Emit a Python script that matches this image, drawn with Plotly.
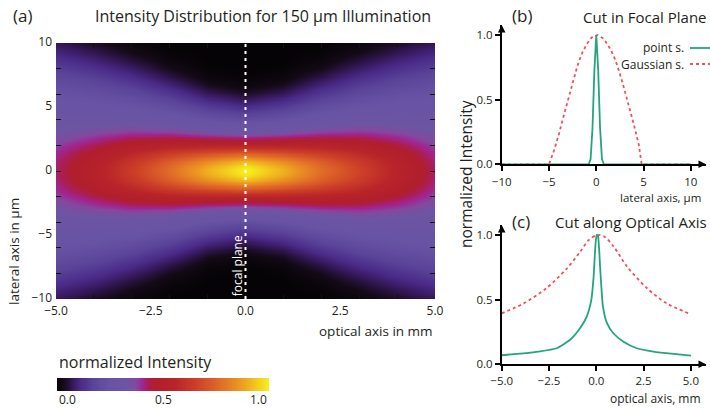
import numpy as np
import plotly.graph_objects as go

W, H = 710, 409
FONT = "Open Sans"
TXT = "#231f20"

# ---------------- Panel (a): beam parameters ----------------
opt_pos_mm = [-5, -4, -3, -2, -1, 0, 1, 2, 3, 4, 5]
on_axis_int = [0.42, 0.52, 0.64, 0.77, 0.90, 1.00, 0.90, 0.77, 0.66, 0.54, 0.42]
halo_level = [0.28, 0.28, 0.28, 0.28, 0.28, 0.28, 0.28, 0.28, 0.28, 0.28, 0.28]
halo_halfwidth_um = [8.4, 7.7, 6.9, 6.0, 5.1, 4.7, 5.1, 6.0, 6.9, 7.7, 8.4]
core_width_um = [3.2, 3.0, 2.8, 2.5, 2.2, 2.05, 2.2, 2.5, 2.8, 3.0, 3.2]
lat_grid_um = np.linspace(-10, 10, 161)
focal_plane_mm = 0.0

# colour-bar values and labels
cbar_vals = np.linspace(0, 1, 201)
cbar_ticks = ['0.0', '0.5', '1.0']

# ---------------- Panel (b): cut in focal plane ----------------
lat_point_um = [-10, -0.8, -0.6, -0.4, -0.2, 0.0, 0.2, 0.4, 0.6, 0.8, 10]
point_focal = [0, 0, 0.04, 0.28, 0.73, 1.0, 0.73, 0.28, 0.04, 0, 0]
lat_gauss_um = [-10, -5, -4.5, -4, -3.5, -3, -2.5, -2, -1.5, -1, -0.5, 0.15,
                0.8, 1.5, 2, 2.5, 3, 3.5, 4, 4.5, 4.8, 10]
gauss_focal = [0, 0, 0.1, 0.22, 0.36, 0.5, 0.63, 0.76, 0.86, 0.93, 0.98, 1.0,
               0.97, 0.89, 0.81, 0.7, 0.57, 0.44, 0.3, 0.15, 0, 0]

# ---------------- Panel (c): cut along optical axis ----------------
opt_point_mm = [-5, -3.85, -3.06, -2.09, -1.38, -0.85, -0.5, -0.26, -0.14, -0.05, 0.02,
                0.09, 0.21, 0.35, 0.56, 0.9, 1.44, 2.14, 3.02, 4.08, 5]
point_axial = [0.07, 0.085, 0.098, 0.124, 0.19, 0.28, 0.37, 0.5, 0.68, 0.91, 1.0,
               0.99, 0.73, 0.45, 0.32, 0.24, 0.175, 0.124, 0.098, 0.08, 0.067]
opt_gauss_mm = [-5, -3.85, -2.62, -1.56, -0.85, -0.41, 0.05, 0.4, 0.92, 1.63, 2.67, 3.73, 5]
gauss_axial = [0.394, 0.47, 0.59, 0.74, 0.87, 0.96, 1.0, 0.99, 0.91, 0.755, 0.59, 0.47, 0.387]

colorscale = [
    [0.0, '#050305'], [0.03, '#150a18'], [0.07, '#35185a'], [0.11, '#4a2a88'],
    [0.17, '#5a4499'], [0.24, '#6753a4'], [0.33, '#6c55a3'], [0.37, '#84489f'],
    [0.40, '#a02590'], [0.43, '#aa1e55'], [0.46, '#b11e2c'], [0.55, '#b8242a'],
    [0.65, '#cc3e28'], [0.75, '#de6428'], [0.85, '#eb9222'], [0.93, '#f2c21e'],
    [1.0, '#f6f31a'],
]

# build the intensity map from the read parameters
T = np.array(on_axis_int)
Hh = np.array(halo_level)
Wh = np.array(halo_halfwidth_um)
Wc = np.array(core_width_um)
Y = lat_grid_um[:, None]
z = (T - Hh)[None, :] * np.exp(-(Y / Wc[None, :]) ** 2) + \
    Hh[None, :] * np.exp(-np.log(2) * (Y / Wh[None, :]) ** 4)

GREEN = '#22a679'
RED = '#f0505e'


def px(x):
    return x / W


def py(y):
    return 1 - y / H


fig = go.Figure()
fig.add_trace(go.Heatmap(
    x=opt_pos_mm, y=lat_grid_um, z=z, zmin=0, zmax=1, zsmooth='best',
    colorscale=colorscale, xaxis='x', yaxis='y', hoverinfo='skip', showscale=False))
# colour bar drawn as its own heat-map strip
fig.add_trace(go.Heatmap(
    x=cbar_vals, y=[0], z=[cbar_vals], zmin=0, zmax=1, zsmooth='best',
    colorscale=colorscale, xaxis='x5', yaxis='y5', hoverinfo='skip', showscale=False))
# tick-only overlay axes
fig.add_trace(go.Scatter(x=[], y=[], xaxis='x4', yaxis='y4', showlegend=False))

fig.add_trace(go.Scatter(x=lat_gauss_um, y=gauss_focal, mode='lines', xaxis='x2', yaxis='y2',
                         line=dict(color=RED, width=1.8, dash='dot'), showlegend=False))
fig.add_trace(go.Scatter(x=lat_point_um, y=point_focal, mode='lines', xaxis='x2', yaxis='y2',
                         line=dict(color=GREEN, width=1.8), showlegend=False))
fig.add_trace(go.Scatter(x=opt_gauss_mm, y=gauss_axial, mode='lines', xaxis='x3', yaxis='y3',
                         line=dict(color=RED, width=1.8, dash='dot', shape='spline', smoothing=0.8),
                         showlegend=False))
fig.add_trace(go.Scatter(x=opt_point_mm, y=point_axial, mode='lines', xaxis='x3', yaxis='y3',
                         line=dict(color=GREEN, width=1.8, shape='spline', smoothing=0.5),
                         showlegend=False))

tickfont = dict(family=FONT, size=12, color=TXT)
smallfont = dict(family=FONT, size=11.5, color=TXT)

panel_axis = dict(showline=True, linecolor='black', linewidth=1.5, ticks='outside',
                  ticklen=5, tickwidth=1.5, tickcolor='black', showgrid=False,
                  zeroline=False, tickfont=smallfont, fixedrange=True)

fig.update_layout(
    width=W, height=H, margin=dict(l=0, r=0, t=0, b=0, autoexpand=False),
    paper_bgcolor='white', plot_bgcolor='white', showlegend=False,
    font=dict(family=FONT, color=TXT),
    xaxis=dict(domain=[px(56), px(435)], range=[-5, 5], anchor='y',
               tickvals=[-5, -2.5, 0, 2.5, 5], tickformat='.1f', ticks='',
               ticklabelstandoff=3,
               showgrid=False, zeroline=False, tickfont=tickfont, showline=False),
    yaxis=dict(domain=[py(299), py(43)], range=[-10, 10], anchor='x',
               tickvals=[-10, -5, 0, 5, 10], ticks='', showgrid=False, zeroline=False,
               ticklabelstandoff=3, ticklabelshift=-1,
               tickfont=tickfont, showline=False),
    xaxis4=dict(overlaying='x', anchor='y4', range=[-5, 5], dtick=1, tick0=0,
                ticks='inside', ticklen=5, tickcolor='#111', tickwidth=1,
                showticklabels=False, mirror='ticks', showgrid=False, zeroline=False,
                showline=False),
    yaxis4=dict(overlaying='y', anchor='x4', range=[-10, 10], dtick=2, tick0=0,
                ticks='inside', ticklen=5, tickcolor='#111', tickwidth=1,
                showticklabels=False, mirror='ticks', showgrid=False, zeroline=False,
                showline=False),
    xaxis5=dict(domain=[px(57), px(269)], range=[0, 1], anchor='y5', visible=False),
    yaxis5=dict(domain=[py(391), py(378)], range=[-0.5, 0.5], anchor='x5', visible=False),
    xaxis2=dict(domain=[px(501.7), px(706)], range=[-10, 11.6], anchor='y2',
                tickvals=[-10, -5, 0, 5, 10], ticklabelstandoff=1, **panel_axis),
    yaxis2=dict(domain=[py(164.3), py(25)], range=[0, 1.077], anchor='x2',
                tickvals=[0, 0.5, 1], tickformat='.1f', **panel_axis),
    xaxis3=dict(domain=[px(501.7), px(706)], range=[-5, 5.8], anchor='y3',
                tickvals=[-5, -2.5, 0, 2.5, 5], tickformat='.1f', **panel_axis),
    yaxis3=dict(domain=[py(364.3), py(225)], range=[0, 1.077], anchor='x3',
                tickvals=[0, 0.5, 1], tickformat='.1f', **panel_axis),
)

fig.add_shape(type='line', xref='x', yref='y', x0=focal_plane_mm, x1=focal_plane_mm,
              y0=-10, y1=10, line=dict(color='white', width=2, dash='3px,4px'))


def ann(text, x, y, size=13, xanchor='left', yanchor='middle', angle=0, color=TXT, xref='paper',
        yref='paper'):
    fig.add_annotation(text=text, x=x, y=y, xref=xref, yref=yref, showarrow=False,
                       xanchor=xanchor, yanchor=yanchor, textangle=angle,
                       font=dict(family=FONT, size=size, color=color))


# arrowheads on the cut panels
for xr, yr, xe, ye in [('x2', 'y2', 11.6, 1.077), ('x3', 'y3', 5.8, 1.077)]:
    fig.add_annotation(x=xe, y=0, xref=xr, yref=yr, ax=-8, ay=0, showarrow=True,
                       arrowhead=2, arrowsize=1, arrowwidth=1.5, arrowcolor='black', text='')
    fig.add_annotation(x=-10 if xr == 'x2' else -5, y=ye, xref=xr, yref=yr, ax=0, ay=8,
                       showarrow=True, arrowhead=2, arrowsize=1, arrowwidth=1.5,
                       arrowcolor='black', text='')

ann('(a)', px(11), py(15), size=17)
ann('Intensity Distribution for 150 µm Illumination', px(93), py(16), size=16)
ann('lateral axis in µm', px(14), py(252), size=13.5, xanchor='center', angle=-90)
ann('optical axis in mm', px(435), py(331), size=13.5, xanchor='right')
ann('normalized Intensity', px(57), py(362), size=16)
ann(cbar_ticks[0], px(57), py(399), size=12, xanchor='left')
ann(cbar_ticks[1], px(163), py(399), size=12, xanchor='center')
ann(cbar_ticks[2], px(269), py(399), size=12, xanchor='right')
ann('focal plane', -0.21, -7.4, size=12, xanchor='center', angle=-90, color='white',
    xref='x', yref='y')

ann('(b)', px(510), py(15), size=17)
ann('Cut in Focal Plane', px(709), py(17), size=15, xanchor='right')
ann('(c)', px(510), py(222), size=17)
ann('Cut along Optical Axis', px(709), py(222), size=15, xanchor='right')
ann('normalized Intensity', px(466), py(174), size=15.5, xanchor='center', angle=-90)
ann('lateral axis, µm', px(703), py(197), size=11.5, xanchor='right')
ann('optical axis, mm', px(703), py(398), size=12, xanchor='right')

ann('point s.', px(686), py(48), size=12, xanchor='right')
ann('Gaussian s.', px(686), py(64), size=12, xanchor='right')
fig.add_shape(type='line', xref='paper', yref='paper', x0=px(690), x1=px(710), y0=py(48),
              y1=py(48), line=dict(color=GREEN, width=1.8))
fig.add_shape(type='line', xref='paper', yref='paper', x0=px(690), x1=px(710), y0=py(64),
              y1=py(64), line=dict(color=RED, width=1.8, dash='dot'))

fig.write_html("out.html")
